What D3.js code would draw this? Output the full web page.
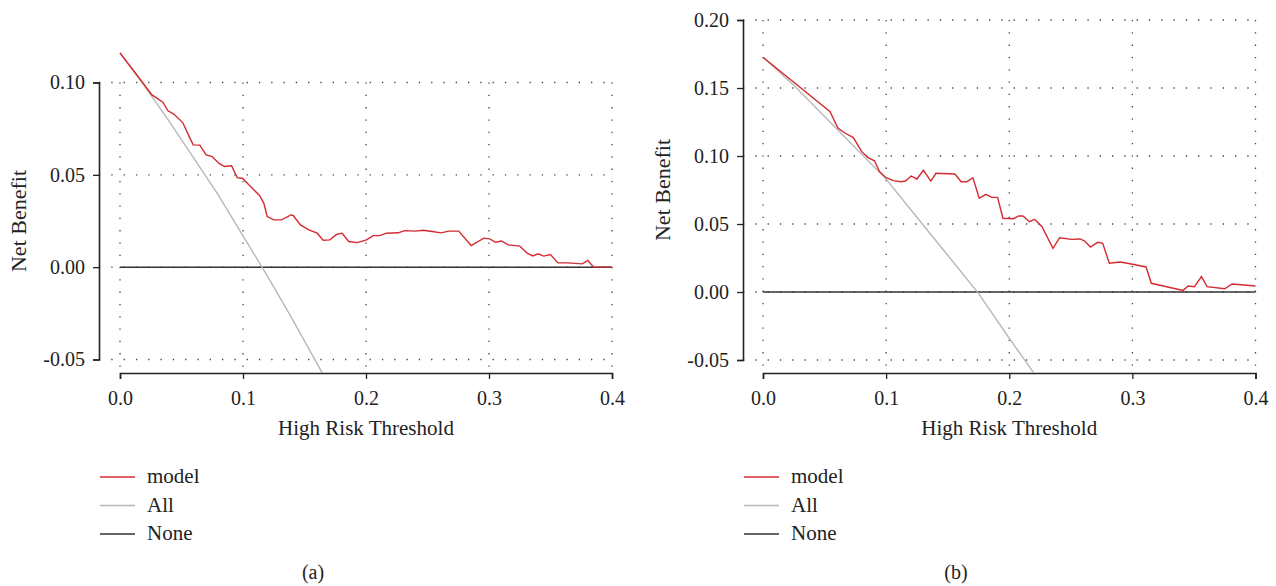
<!DOCTYPE html>
<html><head><meta charset="utf-8">
<script src="https://cdn.jsdelivr.net/npm/d3@7"></script>
<style>
html,body{margin:0;padding:0;background:#fff;}
svg text{font-family:"Liberation Serif","DejaVu Serif",serif;fill:#222;}
</style></head>
<body><svg id="c" width="1276" height="586"></svg>
<script>
// ---- data ----
const xTicks = [0.0, 0.1, 0.2, 0.3, 0.4];
const yTicksA = [-0.05, 0.00, 0.05, 0.10];
const yTicksB = [-0.05, 0.00, 0.05, 0.10, 0.15, 0.20];
const seriesNames = ["model", "All", "None"];
const panelLabels = ["(a)", "(b)"];

const modelA_t = [0,0.0167,0.026,0.030,0.035,0.039,0.0437,0.051,0.056,0.0595,0.0649,0.070,0.075,0.0803,0.085,0.0907,0.0953,0.0998,0.1047,0.1088,0.1134,0.1169,0.1197,0.125,0.1313,0.139,0.1408,0.1467,0.1535,0.1603,0.1652,0.1706,0.176,0.1806,0.186,0.1928,0.2004,0.2058,0.211,0.2167,0.2262,0.2315,0.2402,0.2465,0.2538,0.2611,0.2673,0.2754,0.2855,0.2958,0.3006,0.3053,0.3102,0.3156,0.325,0.331,0.3356,0.34,0.3445,0.35,0.356,0.364,0.3758,0.3803,0.3852,0.4];
const modelA_nb = [0.116,0.1015,0.0933,0.0915,0.0892,0.0847,0.0829,0.0783,0.0711,0.0662,0.0661,0.0608,0.0599,0.0563,0.0545,0.0549,0.0485,0.048,0.0446,0.0419,0.0388,0.0347,0.0274,0.0256,0.0256,0.0283,0.028,0.0229,0.0202,0.0184,0.0146,0.0148,0.0177,0.0184,0.0139,0.0133,0.0148,0.0171,0.0171,0.0184,0.0186,0.0198,0.0195,0.02,0.0193,0.0186,0.0195,0.0195,0.0117,0.0157,0.0153,0.0135,0.0142,0.0121,0.0114,0.0076,0.0061,0.0072,0.006,0.0068,0.0023,0.0023,0.0018,0.0036,0,0];
const allA_t = [0,0.02,0.04,0.06,0.08,0.10,0.12,0.14,0.16,0.17];
const allA_nb = [0.116,0.098,0.079,0.059,0.039,0.017,-0.005,-0.028,-0.052,-0.064];

const modelB_t = [0,0.0545,0.0607,0.0661,0.0734,0.0802,0.0851,0.0905,0.0946,0.1,0.1059,0.1119,0.1157,0.1203,0.125,0.1303,0.1363,0.1405,0.1558,0.161,0.1656,0.1705,0.1756,0.181,0.1859,0.1905,0.1949,0.2035,0.2076,0.2111,0.2165,0.2206,0.2266,0.2355,0.2409,0.2504,0.2577,0.2612,0.2659,0.2718,0.2759,0.2813,0.2902,0.3002,0.3111,0.3154,0.3412,0.3453,0.3504,0.3561,0.3607,0.375,0.381,0.4];
const modelB_nb = [0.1726,0.1326,0.1208,0.1171,0.1135,0.1032,0.099,0.0965,0.0885,0.084,0.0819,0.0811,0.0816,0.0853,0.0831,0.0895,0.0816,0.0873,0.0868,0.0811,0.0811,0.084,0.0689,0.0718,0.0696,0.0696,0.0542,0.0539,0.0559,0.0559,0.0517,0.0535,0.048,0.0321,0.0399,0.0387,0.039,0.0375,0.0331,0.0365,0.0358,0.0211,0.0221,0.0204,0.0184,0.0064,0.0012,0.0044,0.0039,0.0113,0.0039,0.0024,0.0059,0.0044];
const allB_t = [0,0.025,0.05,0.075,0.10,0.125,0.15,0.175,0.20,0.225];
const allB_nb = [0.1726,0.152,0.129,0.106,0.083,0.055,0.027,-0.001,-0.034,-0.066];

const noneNb = 0;

// ---- drawing ----
const svg = d3.select("#c");
const colors = {model:"#d42a30", All:"#b8b8b8", None:"#333333"};
const FS_TICK = 20, FS_LAB = 21, FS_YLAB = 22, FS_LEG = 21;

function panel(cfg){
  const g = svg.append("g");
  const x = d3.scaleLinear().domain([0,0.4]).range(cfg.xr);
  const y = d3.scaleLinear().domain(cfg.yd).range(cfg.yr);
  const axisLeftX = cfg.axisX, axisBottomY = 373;
  const id = "clip"+cfg.name;
  svg.append("clipPath").attr("id",id).append("rect")
     .attr("x",axisLeftX).attr("y",0).attr("width",cfg.xr[1]+20-axisLeftX).attr("height",axisBottomY);

  // grid
  const yt = cfg.yTicks;
  g.selectAll(".hg").data(yt).join("line")
    .attr("x1",axisLeftX).attr("x2",x(0.4)).attr("y1",d=>y(d)).attr("y2",d=>y(d))
    .attr("stroke","#444").attr("stroke-width",1.3).attr("stroke-dasharray","1.3,11");
  g.selectAll(".vg").data(xTicks).join("line")
    .attr("x1",d=>x(d)).attr("x2",d=>x(d)).attr("y1",y(d3.max(yt))).attr("y2",axisBottomY)
    .attr("stroke","#444").attr("stroke-width",1.3).attr("stroke-dasharray","1.3,11");

  // axes
  const fmtY = d => d3.format(".2f")(d).replace("\u2212","-");
  const ax = g.append("g").attr("transform",`translate(0,${axisBottomY})`)
    .call(d3.axisBottom(x).tickValues(xTicks).tickFormat(d3.format(".1f")).tickSize(6).tickPadding(8));
  const ay = g.append("g").attr("transform",`translate(${axisLeftX},0)`)
    .call(d3.axisLeft(y).tickValues(yt).tickFormat(fmtY).tickSize(6).tickPadding(8));
  [ax,ay].forEach(a=>{
    a.select(".domain").attr("stroke","#222").attr("stroke-width",1.6);
    a.selectAll(".tick line").attr("stroke","#222").attr("stroke-width",1.3);
    a.selectAll("text").attr("font-size",FS_TICK).attr("fill","#222")
      .attr("font-family","'Liberation Serif',serif");
  });
  ax.selectAll("text").attr("dy","0.9em");

  const line = d3.line().x(d=>x(d[0])).y(d=>y(d[1]));
  const pg = g.append("g").attr("clip-path",`url(#${id})`);
  pg.append("path").datum(xTicks.filter((d,i)=>i===0||i===xTicks.length-1).map(t=>[t,noneNb]))
    .attr("d",line).attr("fill","none").attr("stroke",colors.None).attr("stroke-width",1.5);
  pg.append("path").datum(cfg.allT.map((t,i)=>[t,cfg.allNb[i]]))
    .attr("d",line).attr("fill","none").attr("stroke",colors.All).attr("stroke-width",1.4);
  pg.append("path").datum(cfg.modT.map((t,i)=>[t,cfg.modNb[i]]))
    .attr("d",line).attr("fill","none").attr("stroke",colors.model).attr("stroke-width",1.4);

  // labels
  g.append("text").attr("x",x(0.2)).attr("y",435).attr("text-anchor","middle")
    .attr("font-size",FS_LAB).text("High Risk Threshold");
  const ymid = (y(d3.min(yt))+y(d3.max(yt)))/2;
  g.append("text").attr("transform",`translate(${axisLeftX-73},${ymid}) rotate(-90)`)
    .attr("text-anchor","middle").attr("font-size",FS_YLAB).text("Net Benefit");

  // legend
  const lg = g.append("g");
  seriesNames.forEach((s,i)=>{
    const ly = 477 + i*28.5;
    lg.append("line").attr("x1",axisLeftX+1).attr("x2",axisLeftX+36).attr("y1",ly).attr("y2",ly)
      .attr("stroke",colors[s]).attr("stroke-width",1.5);
    lg.append("text").attr("x",axisLeftX+48).attr("y",ly+6).attr("font-size",FS_LEG).text(s);
  });
  g.append("text").attr("x",cfg.labX).attr("y",579).attr("text-anchor","middle")
    .attr("font-size",20).text(cfg.label);
}

panel({name:"A", xr:[120,612], yd:[-0.05,0.10], yr:[359.5,82.5], axisX:99, yTicks:yTicksA,
  modT:modelA_t, modNb:modelA_nb, allT:allA_t, allNb:allA_nb, label:panelLabels[0], labX:313});
panel({name:"B", xr:[763,1255.5], yd:[-0.05,0.20], yr:[360,20], axisX:743, yTicks:yTicksB,
  modT:modelB_t, modNb:modelB_nb, allT:allB_t, allNb:allB_nb, label:panelLabels[1], labX:956});
</script></body></html>
